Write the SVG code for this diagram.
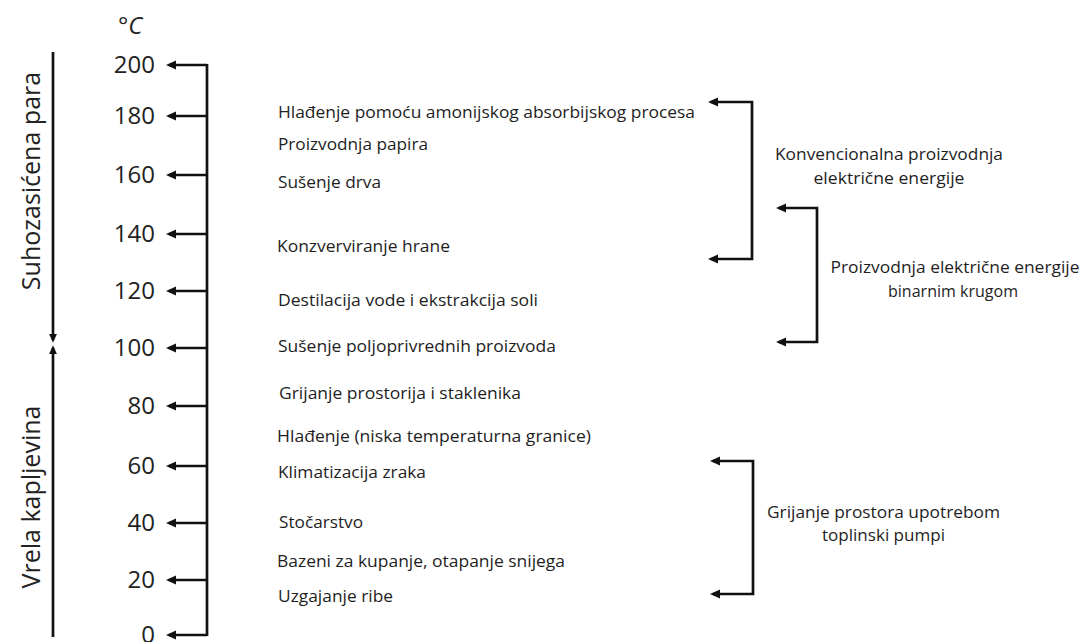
<svg xmlns="http://www.w3.org/2000/svg" width="1083" height="642" viewBox="0 0 1083 642">
<defs>
<marker id="ah" viewBox="0 0 10 10" refX="7" refY="5" markerWidth="10.5" markerHeight="10.5" markerUnits="userSpaceOnUse" orient="auto-start-reverse">
<path d="M0,0.5 L10,5 L0,9.5 z" fill="#111"/>
</marker>
<marker id="ax" viewBox="0 0 10 10" refX="7" refY="5" markerWidth="9" markerHeight="9" markerUnits="userSpaceOnUse" orient="auto">
<path d="M0,0.5 L10,5 L0,9.5 z" fill="#111"/>
</marker>
</defs>
<style>
.ln{fill:none;stroke:#111;stroke-width:2.7}
.num{font-family:"Open Sans","Liberation Sans",sans-serif;font-size:24px;fill:#222;text-anchor:end}
.itm{font-family:"Open Sans","Liberation Sans",sans-serif;font-size:15.5px;fill:#1e1e1e}
.grp{font-family:"Open Sans","Liberation Sans",sans-serif;font-size:15.5px;fill:#1e1e1e;text-anchor:middle}
.side{font-family:"Open Sans","Liberation Sans",sans-serif;font-size:25px;fill:#222;text-anchor:middle}
</style>
<rect width="1083" height="642" fill="#fff"/>

<g id="unit"><text x="118" y="34" font-family="Open Sans, Liberation Sans, sans-serif" font-size="24" font-style="italic" fill="#222">°C</text></g>

<g id="phase-labels">
<text class="side" transform="translate(40,181) rotate(-90)">Suhozasićena para</text>
<text class="side" transform="translate(40,497) rotate(-90)">Vrela kapljevina</text>
</g>

<g id="scale-numbers">
<text class="num" x="155" y="73">200</text>
<text class="num" x="155" y="124">180</text>
<text class="num" x="155" y="183">160</text>
<text class="num" x="155" y="242">140</text>
<text class="num" x="155" y="299">120</text>
<text class="num" x="155" y="356">100</text>
<text class="num" x="155" y="414">80</text>
<text class="num" x="155" y="474">60</text>
<text class="num" x="155" y="531">40</text>
<text class="num" x="155" y="588">20</text>
<text class="num" x="155" y="643">0</text>
</g>

<g id="applications">
<text class="itm" x="278" y="118" textLength="417" lengthAdjust="spacingAndGlyphs">Hlađenje pomoću amonijskog absorbijskog procesa</text>
<text class="itm" x="278" y="150" textLength="150" lengthAdjust="spacingAndGlyphs">Proizvodnja papira</text>
<text class="itm" x="278" y="188" textLength="103" lengthAdjust="spacingAndGlyphs">Sušenje drva</text>
<text class="itm" x="277" y="252" textLength="173" lengthAdjust="spacingAndGlyphs">Konzverviranje hrane</text>
<text class="itm" x="278" y="306" textLength="260" lengthAdjust="spacingAndGlyphs">Destilacija vode i ekstrakcija soli</text>
<text class="itm" x="278" y="352" textLength="278" lengthAdjust="spacingAndGlyphs">Sušenje poljoprivrednih proizvoda</text>
<text class="itm" x="279" y="399" textLength="242" lengthAdjust="spacingAndGlyphs">Grijanje prostorija i staklenika</text>
<text class="itm" x="277" y="442" textLength="314" lengthAdjust="spacingAndGlyphs">Hlađenje (niska temperaturna granice)</text>
<text class="itm" x="278" y="478" textLength="148" lengthAdjust="spacingAndGlyphs">Klimatizacija zraka</text>
<text class="itm" x="279" y="528" textLength="84" lengthAdjust="spacingAndGlyphs">Stočarstvo</text>
<text class="itm" x="277" y="567" textLength="288" lengthAdjust="spacingAndGlyphs">Bazeni za kupanje, otapanje snijega</text>
<text class="itm" x="278" y="602" textLength="115" lengthAdjust="spacingAndGlyphs">Uzgajanje ribe</text>
</g>

<g id="group-conventional">
<text class="grp" x="889" y="160" textLength="228" lengthAdjust="spacingAndGlyphs">Konvencionalna proizvodnja</text>
<text class="grp" x="889" y="184" textLength="151" lengthAdjust="spacingAndGlyphs">električne energije</text>
</g>
<g id="group-binary">
<text class="grp" x="955" y="273" textLength="249" lengthAdjust="spacingAndGlyphs">Proizvodnja električne energije</text>
<text class="grp" x="953" y="297" textLength="130" lengthAdjust="spacingAndGlyphs">binarnim krugom</text>
</g>
<g id="group-heatpump">
<text class="grp" x="883.5" y="518" textLength="233" lengthAdjust="spacingAndGlyphs">Grijanje prostora upotrebom</text>
<text class="grp" x="883.5" y="541" textLength="123" lengthAdjust="spacingAndGlyphs">toplinski pumpi</text>
</g>

<g id="connectors">
<path class="ln" d="M53,52 V340" marker-end="url(#ax)"/>
<path class="ln" d="M53,637 V348" marker-end="url(#ax)"/>
<path class="ln" d="M207,64 V636"/>
<path class="ln" d="M207,65 H169" marker-end="url(#ah)"/>
<path class="ln" d="M207,116 H169" marker-end="url(#ah)"/>
<path class="ln" d="M207,175 H169" marker-end="url(#ah)"/>
<path class="ln" d="M207,234 H169" marker-end="url(#ah)"/>
<path class="ln" d="M207,291 H169" marker-end="url(#ah)"/>
<path class="ln" d="M207,348 H169" marker-end="url(#ah)"/>
<path class="ln" d="M207,406 H169" marker-end="url(#ah)"/>
<path class="ln" d="M207,466 H169" marker-end="url(#ah)"/>
<path class="ln" d="M207,523 H169" marker-end="url(#ah)"/>
<path class="ln" d="M207,580 H169" marker-end="url(#ah)"/>
<path class="ln" d="M207,635 H169" marker-end="url(#ah)"/>
<path class="ln" d="M711,102 H752 V259 H711" marker-start="url(#ah)" marker-end="url(#ah)"/>
<path class="ln" d="M779,208 H817 V342 H779" marker-start="url(#ah)" marker-end="url(#ah)"/>
<path class="ln" d="M713,461 H753 V594 H713" marker-start="url(#ah)" marker-end="url(#ah)"/>
</g>
</svg>
